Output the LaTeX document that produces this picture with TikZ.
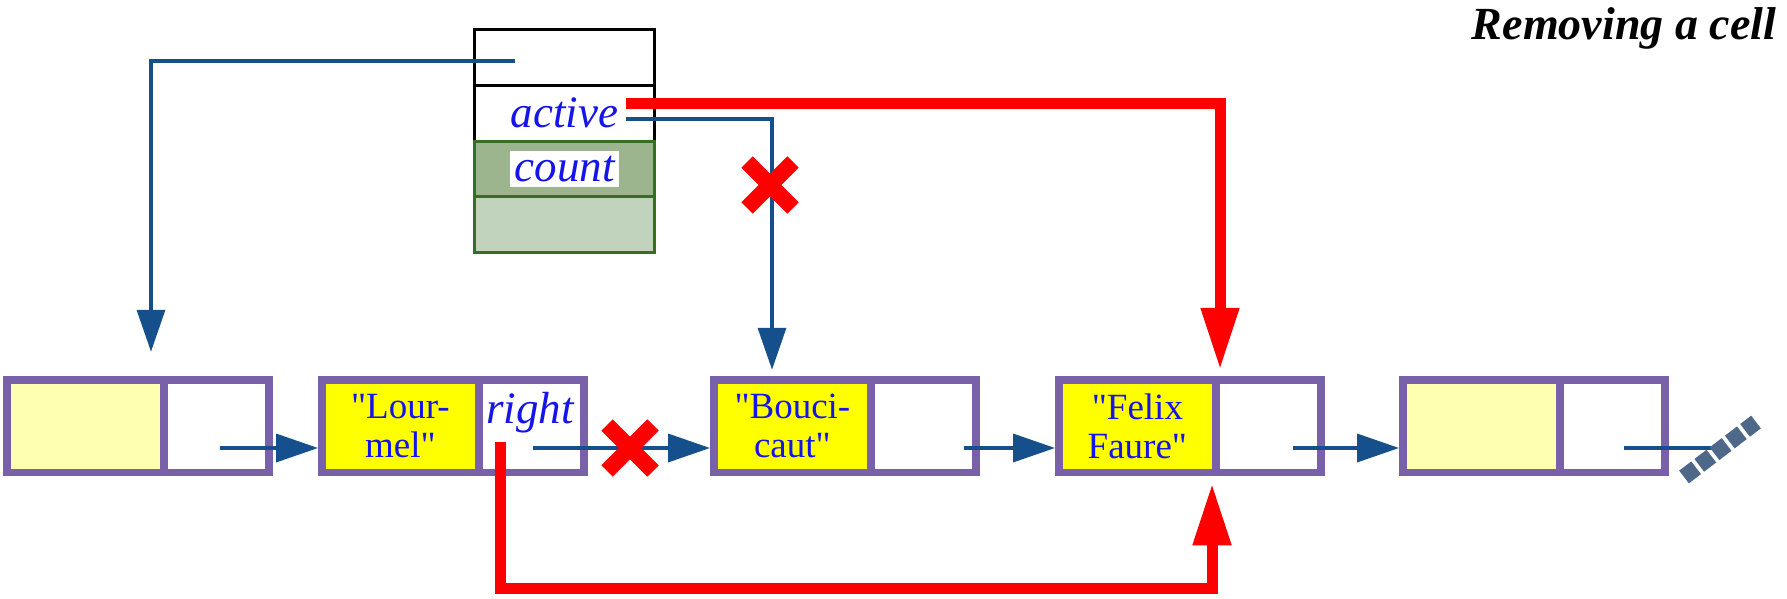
\documentclass[tikz,border=0pt]{standalone}
\usepackage{fontspec}
\setmainfont{Liberation Serif}
\definecolor{cellviolet}{RGB}{121,97,170}
\definecolor{paleyel}{RGB}{255,255,178}
\definecolor{brightyel}{RGB}{255,255,0}
\definecolor{linkblue}{RGB}{22,80,140}
\definecolor{txtblue}{RGB}{20,20,235}
\definecolor{cutred}{RGB}{255,0,0}
\definecolor{hdrgreen}{RGB}{55,110,35}
\definecolor{sagedark}{RGB}{156,181,143}
\definecolor{sagelight}{RGB}{194,211,189}
\definecolor{slate}{RGB}{78,104,138}
\usetikzlibrary{arrows.meta, positioning, calc}
\tikzset{
	valcell/.style={rectangle, draw=cellviolet, line width=3.75pt, outer sep=0pt, inner sep=0pt, minimum width=78.6pt, minimum height=46.25pt, align=center, text=txtblue, font=\fontsize{18.5}{19.5}\selectfont},
	nextcell/.style={rectangle, draw=cellviolet, fill=white, line width=3.75pt, outer sep=0pt, inner sep=0pt, minimum width=52.6pt, minimum height=46.25pt},
	hdrcell/.style={rectangle, draw=black, fill=white, line width=1.5pt, outer sep=0pt, inner sep=0pt, minimum width=90pt, minimum height=27.9pt, text=txtblue, font=\itshape\fontsize{22.5}{24}\selectfont},
	lbl/.style={inner sep=0pt, text=txtblue, font=\itshape\fontsize{22.5}{24}\selectfont},
	title/.style={inner sep=0pt, font=\bfseries\itshape\fontsize{23}{26}\selectfont},
	link/.style={-{Triangle[length=21pt, width=14pt]}, line width=1.75pt, draw=linkblue},
	cutlink/.style={-{Triangle[length=31pt, width=18pt]}, line width=5.5pt, draw=cutred},
	cross/.style={line width=8pt, draw=cutred},
	ground/.style={line width=8pt, draw=slate, dash pattern=on 7.6pt off 2pt},
}
\setlength{\fboxsep}{2.5pt}
\newcommand{\qt}{\textquotedbl}

\begin{document}
\begin{tikzpicture}[x=0.5pt, y=-0.5pt]
		\useasboundingbox (0,0) rectangle (1787,599);
		% header object
		\node[hdrcell] (htop) at (564.5,57.4) {};
		\node[hdrcell, below=0pt of htop] (hact) {active};
		\node[hdrcell, below=0pt of hact, draw=hdrgreen, fill=sagedark] (hcount) {\colorbox{white}{count}};
		\node[hdrcell, below=0pt of hcount, draw=hdrgreen, fill=sagelight] (hlast) {};
		% list cells
		\node[valcell, fill=paleyel] (v1) at (85.4,426) {};
		\node[nextcell, right=0pt of v1] (n1) {};
		\node[valcell, fill=brightyel] (v2) at (400.4,426) {\qt Lour-\\mel\qt};
		\node[nextcell, right=0pt of v2] (n2) {};
		\node[valcell, fill=brightyel] (v3) at (792.4,426) {\qt Bouci-\\caut\qt};
		\node[nextcell, right=0pt of v3] (n3) {};
		\node[valcell, fill=brightyel] (v4) at (1137.4,426) {\qt Felix\\Faure\qt};
		\node[nextcell, right=0pt of v4] (n4) {};
		\node[valcell, fill=paleyel] (v5) at (1481.4,426) {};
		\node[nextcell, right=0pt of v5] (n5) {};
		\node[lbl, anchor=base] (rlbl) at ($(n2.center)+(-1.6,-3)$) {right};
		\node[title, anchor=base] (ttl) at (1624,40) {Removing a cell};
		\coordinate (gnd) at ($(n5.center)+(99.4,22)$);
		% links
		\draw[link] ($(n1.center)+(3,22)$) -- ($(v2.west)+(-3.75,22)$);
		\draw[link] ($(n2.center)+(1.4,22)$) -- ($(v3.west)+(-3.75,22)$);
		\draw[link] ($(n3.center)+(40,22)$) -- ($(v4.west)+(-3.75,22)$);
		\draw[link] ($(n4.center)+(24,22)$) -- ($(v5.west)+(-3.75,22)$);
		\draw[link, -] ($(n5.center)+(11,22)$) -- (gnd);
		\draw[ground] ($(gnd)+(-28,29)$) -- ($(gnd)+(44,-26)$);
		\draw[link] ($(htop.center)+(-49.5,3.6)$) -| ($(v1.north)+(65.6,-28)$);
		\draw[link] ($(hact.center)+(61.5,6)$) -| ($(v3.north)+(-20.4,-10)$);
		\draw[cutlink] ($(hact.center)+(61.5,-10)$) -| ($(v4.north east)+(4,-10)$);
		\draw[cutlink] ($(n2.center)+(-31.6,16)$) -- ++(0,146) -| ($(v4.south east)+(-4,11)$);
		% crossed-out links
		\draw[cross] (770,185) +(-23,-23) -- +(23,23) +(-23,23) -- +(23,-23);
		\draw[cross] (630,448) +(-23,-23) -- +(23,23) +(-23,23) -- +(23,-23);
	\end{tikzpicture}
\end{document}
